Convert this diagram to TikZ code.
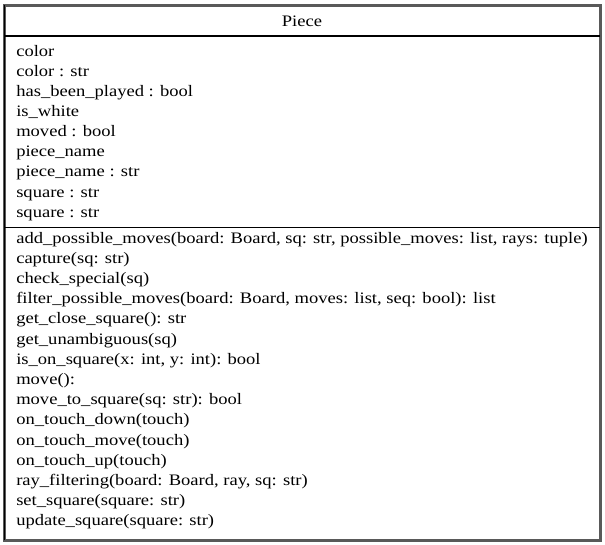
\documentclass[tikz,border=0pt]{standalone}
\usepackage{fontspec}
\setmainfont{Liberation Serif}[FakeStretch=1.16]
\begin{document}
\begin{tikzpicture}[x=0.75pt,y=-0.75pt,
  member/.style={anchor=base west,inner sep=0pt,font=\fontsize{12}{14}\selectfont},
  title/.style={anchor=base,inner sep=0pt,font=\fontsize{12}{14}\selectfont},
  sepline/.style={draw=black,line width=0.9pt}]
\useasboundingbox (0,0) rectangle (605,544);
\fill[white] (0,0) rectangle (605,544);
\draw[draw=black!65,line width=2.2pt] (4.5,5.5) rectangle (600.5,540.5);
\draw[black,line width=0.75pt] (4,5) -- (4,540);
\coordinate (s1a) at (4,36);
\coordinate (s1b) at (600,36);
\coordinate (s2a) at (4,227.5);
\coordinate (s2b) at (600,227.5);
\draw[sepline] (s1a) -- (s1b);
\draw[sepline] (s2a) -- (s2b);
\node[title] (t) at (302,26) {Piece};
\foreach \i/\t in {0/color,1/color : str,2/has\_been\_played : bool,3/is\_white,4/moved : bool,5/piece\_name,6/piece\_name : str,7/square : str,8/square : str}{
  \node[member] (a\i) at (16,56.3+20.1*\i) {\t};
}
\foreach \i/\t in {0/{add\_possible\_moves(board: Board, sq: str, possible\_moves: list, rays: tuple)},1/{capture(sq: str)},2/{check\_special(sq)},3/{filter\_possible\_moves(board: Board, moves: list, seq: bool): list},4/{get\_close\_square(): str},5/{get\_unambiguous(sq)},6/{is\_on\_square(x: int, y: int): bool},7/{move():},8/{move\_to\_square(sq: str): bool},9/{on\_touch\_down(touch)},10/{on\_touch\_move(touch)},11/{on\_touch\_up(touch)},12/{ray\_filtering(board: Board, ray, sq: str)},13/{set\_square(square: str)},14/{update\_square(square: str)}}{
  \node[member] (m\i) at (16,243+20.2*\i) {\t};
}
\end{tikzpicture}
\end{document}
